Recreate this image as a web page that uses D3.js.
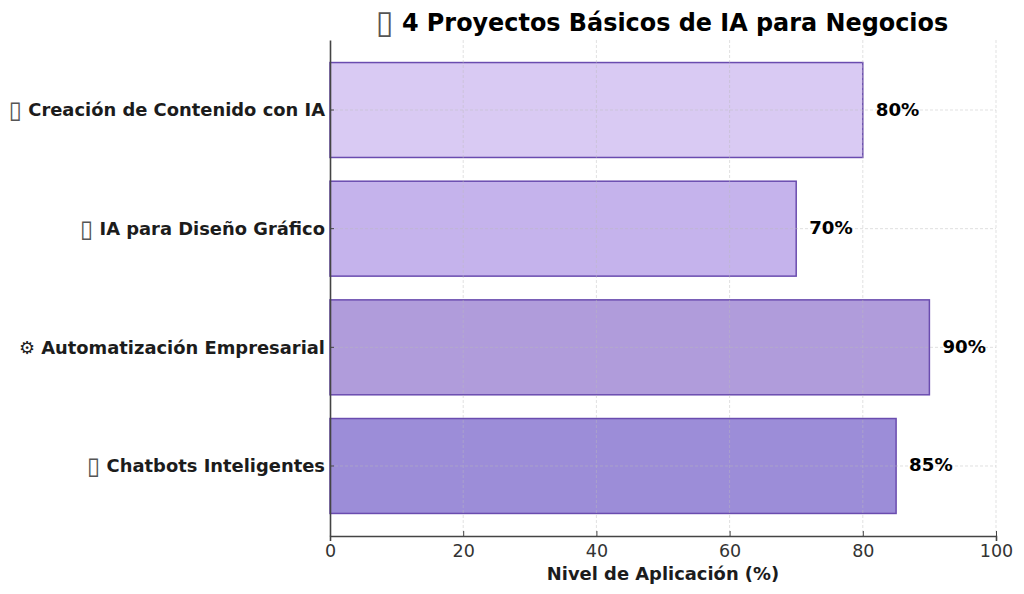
<!DOCTYPE html>
<html>
<head>
<meta charset="utf-8">
<script src="https://cdn.jsdelivr.net/npm/d3@7"></script>
<style>
body { margin: 0; background: #fff; }
text { font-family: "DejaVu Sans", sans-serif; }
</style>
</head>
<body>
<div id="chart"></div>
<script>
// the reference shows empty boxes where its font had no emoji, U+25AF draws the same box
var categories = ["\u25AF Creación de Contenido con IA", "\u25AF IA para Diseño Gráfico", "\u2699 Automatización Empresarial", "\u25AF Chatbots Inteligentes"];
var values = [80, 70, 90, 85];
var colors = ["#d9caf3", "#c5b3ec", "#b09cdb", "#9c8dd8"];
var xTicks = [0, 20, 40, 60, 80, 100];
var titleText = "\u25AF 4 Proyectos Básicos de IA para Negocios";
var xLabel = "Nivel de Aplicación (%)";

var svg = d3.select("#chart").append("svg")
    .attr("width", 1024)
    .attr("height", 594);

var xScale = d3.scaleLinear().domain([0, 100]).range([330, 996]);
var yScale = d3.scaleBand().domain(categories).range([40, 536])
    .paddingInner(0.2).paddingOuter(0.19);

// makes the leading box bigger and thinner, like the missing-glyph box
function bigBox(node, text) {
    var t = d3.select(node);
    if (text[0] != "\u25AF") return;
    t.text(null);
    t.append("tspan").attr("font-size", "1.35em").attr("font-weight", "normal")
        .attr("fill", "#555").attr("dy", "0.07em").text("\u25AF");
    t.append("tspan").attr("dy", "-0.0945em").text(text.slice(1));
}

// bars
svg.selectAll("rect.bar")
    .data(categories).enter().append("rect")
    .attr("class", "bar")
    .attr("x", xScale(0))
    .attr("y", d => yScale(d))
    .attr("width", (d, i) => xScale(values[i]) - xScale(0))
    .attr("height", yScale.bandwidth())
    .attr("fill", (d, i) => colors[i])
    .attr("stroke", "#6a4caf")
    .attr("stroke-width", 1.5);

// grid sits above the bars
svg.append("g").selectAll("line")
    .data(xTicks.slice(1)).enter().append("line")
    .attr("x1", d => xScale(d)).attr("x2", d => xScale(d))
    .attr("y1", 40).attr("y2", 536)
    .attr("stroke", "#bbb").attr("stroke-opacity", 0.45)
    .attr("stroke-dasharray", "3,2");
svg.append("g").selectAll("line")
    .data(categories).enter().append("line")
    .attr("x1", 330).attr("x2", 996)
    .attr("y1", d => yScale(d) + yScale.bandwidth() / 2)
    .attr("y2", d => yScale(d) + yScale.bandwidth() / 2)
    .attr("stroke", "#bbb").attr("stroke-opacity", 0.45)
    .attr("stroke-dasharray", "3,2");

// axes
var xAxis = d3.axisBottom(xScale).tickValues(xTicks).tickSize(5).tickPadding(4);
var gx = svg.append("g")
    .attr("transform", "translate(0,536)")
    .call(xAxis);
gx.selectAll("text").attr("font-size", 17.5).attr("fill", "#333").attr("font-family", "DejaVu Sans");
gx.selectAll("line").attr("stroke", "#444").attr("transform", "scale(1,-1)");
gx.select(".domain").attr("stroke", "#444").attr("stroke-width", 1.6);

var yAxis = d3.axisLeft(yScale).tickSize(0).tickPadding(5);
var gy = svg.append("g")
    .attr("transform", "translate(330,0)")
    .call(yAxis);
// tspan dy would replace the axis dy, so the label offset goes in y instead
gy.selectAll("text").attr("font-size", 17.9).attr("font-weight", "bold").attr("fill", "#1c1c1c").attr("font-family", "DejaVu Sans")
    .attr("dy", null).attr("y", 6.2)
    .each(function (d) { bigBox(this, d); });
gy.selectAll("line").attr("x2", 4).attr("stroke", "#444");
gy.select(".domain").attr("stroke", "#444").attr("stroke-width", 1.6);

// value labels
svg.selectAll("text.value")
    .data(categories).enter().append("text")
    .attr("class", "value")
    .attr("x", (d, i) => xScale(values[i]) + 13)
    .attr("y", d => yScale(d) + yScale.bandwidth() / 2 + 5.5)
    .attr("font-size", 18.2)
    .attr("font-weight", "bold")
    .attr("fill", "#000")
    .text((d, i) => values[i] + "%");

svg.append("text")
    .attr("x", 662).attr("y", 31)
    .attr("text-anchor", "middle")
    .attr("font-size", 23.9)
    .attr("font-weight", "bold")
    .attr("fill", "#000")
    .each(function () { bigBox(this, titleText); });

svg.append("text")
    .attr("x", 663).attr("y", 579.5)
    .attr("text-anchor", "middle")
    .attr("font-size", 17.9)
    .attr("font-weight", "bold")
    .attr("fill", "#1c1c1c")
    .text(xLabel);
</script>
</body>
</html>
